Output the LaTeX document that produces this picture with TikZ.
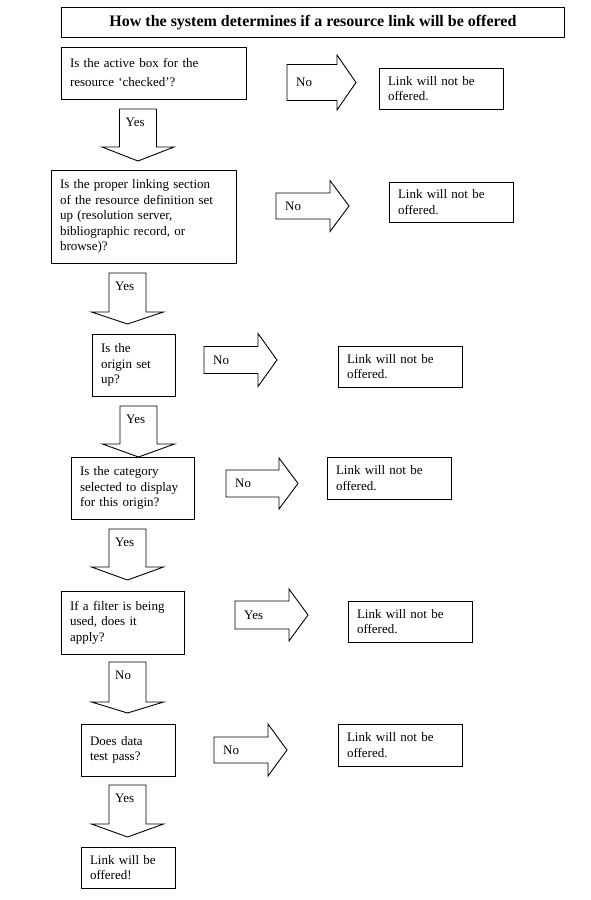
\documentclass[tikz,border=0pt]{standalone}
\usepackage{fontspec}
\setmainfont{Liberation Serif}

\tikzset{
  qbox/.style 2 args={draw, line width=0.9pt, anchor=north west, inner xsep=9pt, inner ysep=0pt,
    outer sep=0pt, minimum width=#1, minimum height=#2, text width=#1-18pt, align=left,
    font=\fontsize{13}{15.5}\selectfont},
  blockarrow/.style={draw, line width=0.9pt, line join=miter},
  arrowlabel/.style={anchor=west, inner sep=0pt, font=\fontsize{13}{15.5}\selectfont},
}

\begin{document}
\begin{tikzpicture}[x=1pt, y=-1pt]
\useasboundingbox (0,0) rectangle (591,900);

\node[draw, line width=0.9pt, anchor=north west, minimum width=503pt, minimum height=30pt,
  inner sep=0pt, font=\fontsize{16}{18}\selectfont\bfseries] (title) at (61,7)
  {How the system determines if a resource link will be offered};

% questions down the left
\node[qbox={185pt}{52pt}] (active) at (61,47) {Is the active box for the\\[3.5pt]resource `checked'?};
\node[qbox={185pt}{93pt}] (linking) at (51,170) {Is the proper linking section\\of the resource definition set\\up (resolution server,\\bibliographic record, or\\browse)?};
\node[qbox={83pt}{62pt}] (origin) at (92,334) {Is the\\origin set\\up?};
\node[qbox={123pt}{62pt}] (category) at (71,457) {Is the category\\selected to display\\for this origin?};
\node[qbox={123pt}{63pt}] (filter) at (61,591) {If a filter is being\\used, does it\\apply?};
\node[qbox={94pt}{52pt}] (datatest) at (81,724) {Does data\\test pass?};
\node[qbox={94pt}{41pt}] (offered) at (81,847) {Link will be\\offered!};

% outcomes on the right
\node[qbox={124pt}{41pt}] (res1) at (379,68) {Link will not be\\offered.};
\node[qbox={124pt}{40pt}] (res2) at (389,182) {Link will not be\\offered.};
\node[qbox={124pt}{41pt}] (res3) at (338,346) {Link will not be\\offered.};
\node[qbox={124pt}{42pt}] (res4) at (327,457) {Link will not be\\offered.};
\node[qbox={124pt}{41pt}] (res5) at (348,601) {Link will not be\\offered.};
\node[qbox={124pt}{42pt}] (res6) at (338,724) {Link will not be\\offered.};

% block arrows going down
\foreach \cx/\ytop/\ybase/\ytip/\lab [count=\i] in
  {138/109/147/161/Yes, 127.5/273/312/324/Yes, 138.5/406/444/457/Yes,
   127.5/529/567/580/Yes, 127.5/662/702/713/No, 127.5/785/824/837/Yes}{
\draw[blockarrow] (\cx-18.5,\ytop) -- (\cx+18.5,\ytop) -- (\cx+18.5,\ybase) -- (\cx+36,\ybase)
  -- (\cx,\ytip) -- (\cx-36,\ybase) -- (\cx-18.5,\ybase) -- cycle;
\node[arrowlabel] (down\i) at (\cx-12.5,\ytop+13) {\lab};
}

% block arrows going right
\foreach \xa/\cy/\half/\len/\head/\lab [count=\i] in
  {287/82.5/18/50/27.5/No, 276/206/13/54/25.5/No, 204/360/13.5/54/26.5/No,
   226/483.5/13.5/53/25.5/No, 235/615/14/54/26/Yes, 214/750/13/54/26/No}{
\draw[blockarrow] (\xa,\cy-\half) -- (\xa+\len,\cy-\half) -- (\xa+\len,\cy-\head)
  -- (\xa+\len+19,\cy) -- (\xa+\len,\cy+\head) -- (\xa+\len,\cy+\half) -- (\xa,\cy+\half) -- cycle;
\node[arrowlabel] (right\i) at (\xa+9,\cy) {\lab};
}
\end{tikzpicture}
\end{document}
